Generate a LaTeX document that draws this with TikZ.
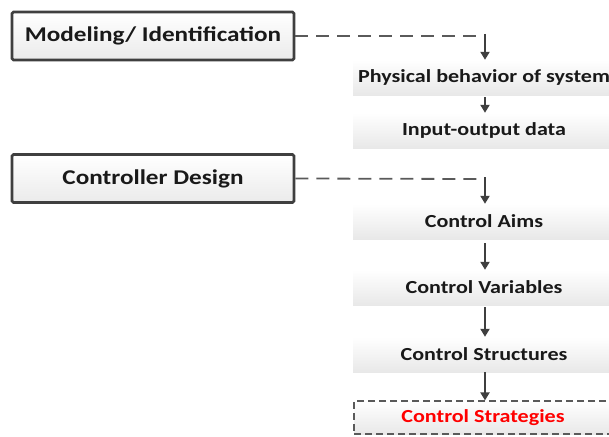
\documentclass[tikz,border=0pt]{standalone}
\usepackage{fontspec}
\setmainfont{Carlito}[FakeStretch=1.2]
\usetikzlibrary{arrows.meta,shadows}
\definecolor{edge}{HTML}{3F3F3F}
\definecolor{link}{HTML}{5A5A5A}
\tikzset{
  phase/.style={draw=edge, line width=2.8pt, rounded corners=1.5pt,
    top color=white, bottom color=black!8,
    drop shadow={shadow xshift=0.8pt, shadow yshift=-0.8pt, opacity=0.3},
    minimum width=282pt, minimum height=48pt, inner sep=0pt,
    font=\fontsize{21}{24}\selectfont\bfseries, text=black!90},
  stepbox/.style={top color=white, bottom color=black!9,
    drop shadow={shadow xshift=0pt, shadow yshift=-1pt, opacity=0.25},
    minimum width=262pt, minimum height=35pt, inner sep=0pt,
    font=\fontsize{18.4}{21}\selectfont\bfseries, text=black!90},
  lastbox/.style={stepbox, draw=link, dashed, dash pattern=on 7pt off 4pt,
    line width=1.2pt, text=red},
  flow/.style={draw=edge, line width=2pt, -{Triangle[length=8pt,width=9pt]}},
  hint/.style={draw=link, line width=1.8pt, dash pattern=on 13pt off 8pt},
}
\begin{document}
\begin{tikzpicture}[x=1pt,y=-1pt]
\useasboundingbox (0,0) rectangle (609,436);
% left column: the two phases
\node[phase] (model) at (153,36) {Modeling/ Identification};
\node[phase] (design) at (153,178.5) {Controller Design};
% right column: the steps of each phase
\node[stepbox] (phys) at (484,77.5) {Physical behavior of system};
\node[stepbox] (io) at (484,130.5) {Input-output data};
\node[stepbox] (aims) at (484,221.5) {Control Aims};
\node[stepbox] (vars) at (484,287.5) {Control Variables};
\node[stepbox] (struct) at (484,354.5) {Control Structures};
\node[lastbox, minimum height=33pt, minimum width=258pt] (strat) at (483,417.5) {Control Strategies};
% entry points of the step chains
\coordinate (mtop) at (485,36);
\coordinate (dtop) at (485,179);
\draw[hint] (model.east) -- ([xshift=-8pt]mtop);
\draw[hint] (design.east) -- ([xshift=-8pt]dtop);
\draw[flow] ([yshift=2pt]mtop) -- (mtop |- phys.north);
\draw[flow] ([yshift=2pt]dtop) -- (dtop |- aims.north);
\draw[flow] ([yshift=-2pt]mtop |- phys.south) -- (mtop |- io.north);
\draw[flow] ([yshift=-4pt]mtop |- aims.south) -- (mtop |- vars.north);
\draw[flow] ([yshift=-2pt]mtop |- vars.south) -- (mtop |- struct.north);
\draw[flow] (mtop |- struct.south) -- (mtop |- strat.north);
\end{tikzpicture}
\end{document}
